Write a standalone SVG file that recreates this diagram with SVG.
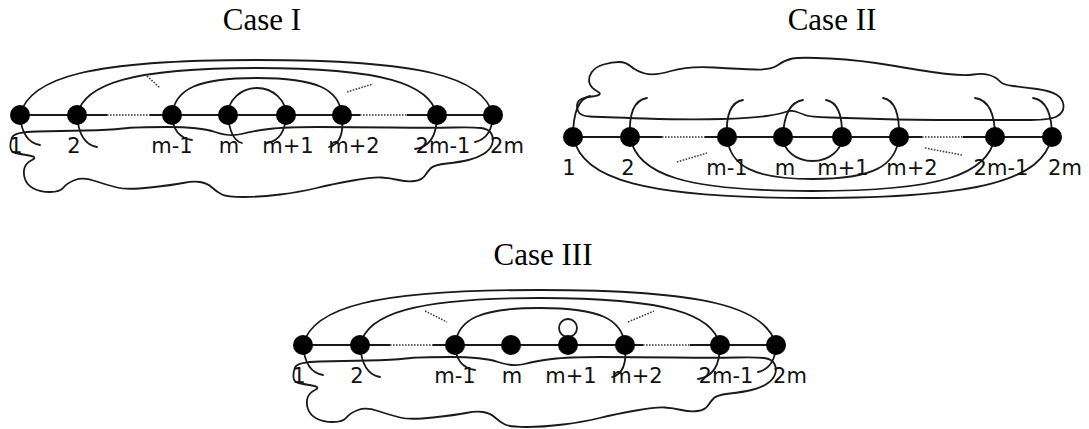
<svg xmlns="http://www.w3.org/2000/svg" width="1089" height="429" viewBox="0 0 1089 429">
<style>
.title{font-family:"Liberation Serif","Times New Roman",serif;font-size:31px;fill:#000;text-anchor:middle}
.lbl{font-family:"DejaVu Sans",sans-serif;font-size:21px;fill:#111;text-anchor:middle}
.ln{fill:none;stroke:#1a1a1a;stroke-width:2}
.cv{fill:none;stroke:#1a1a1a;stroke-width:1.8;stroke-linecap:round}
.dot{fill:none;stroke:#666;stroke-width:2;stroke-dasharray:1.6 1.4}
.dg{fill:none;stroke:#444;stroke-width:1.6;stroke-dasharray:1.6 1.4}
.nd{fill:#000}
</style>
<defs>
<path id="blobI" d="M12,137.5 Q14,132 37,131.5 Q60,131 85,130.5 Q110,130 122.5,128.5 Q135,127 167.5,127 Q200,127 215,132 Q230,137 241.5,134 Q253,131 269,129 Q285,127 317.5,127 Q350,127 391.5,127.5 Q433,128 453,127.5 Q473,127 481,128 Q489,129 491.5,134 Q494,139 492,144.5 Q490,150 483.5,154 Q477,158 468.5,160 Q460,162 447,163.5 Q434,165 431,168 Q428,171 425,175.5 Q422,180 414.5,181 Q407,182 398.5,180 Q390,178 381.5,177.5 Q373,177 353,180.5 Q333,184 316.5,188 Q300,192 280,194.5 Q260,197 243.5,197 Q227,197 222,194.5 Q217,192 212,187.5 Q207,183 200,182 Q193,181 183,183 Q173,185 150,187.5 Q127,190 117,187.5 Q107,185 95,181 Q83,177 75,180 Q67,183 63.5,187.5 Q60,192 50,192 Q40,192 33.5,188.5 Q27,185 25,179 Q23,173 24.5,168 Q26,163 32,160 Q38,157 29,155.5 Q20,154 15.5,153 Q11,152 10.5,147.5 Q10,143 12,137.5 Z"/>
</defs>

<text class="title" x="262" y="30">Case I</text>
<text class="title" x="832" y="30">Case II</text>
<text class="title" x="543" y="265">Case III</text>

<!-- Case I -->
<g id="case1">
  <g id="c1-connectors">
    <use href="#blobI" class="cv"/>
    <path class="cv" d="M20,115 C29.5,77 91,60 256.5,60 C422,60 483.5,77 493,115"/>
    <path class="cv" d="M77,115 C84,84 131,68 257,68 C383,68 430,84 437,115"/>
    <path class="cv" d="M172,115 C175,89 197,78 257,78 C317,78 339,89 342,115"/>
    <path class="cv" d="M228,115 A29,27 0 0 1 286,115"/>
    <path class="cv" d="M20,115 Q22,142 40,145"/>
    <path class="cv" d="M77,115 Q79,144 97,147"/>
    <path class="cv" d="M172,115 Q173,137 192,140"/>
    <path class="cv" d="M228,115 Q230,140 242,143"/>
    <path class="cv" d="M286,115 Q285,140 267,143"/>
    <path class="cv" d="M342,115 Q345,143 329,147"/>
    <path class="cv" d="M437,115 Q437,146 415,149"/>
    <path class="cv" d="M493,115 Q492,138 475,142"/>
    <path class="ln" d="M20,115 H107 M150,115 H360 M407,115 H493"/>
    <path class="dot" d="M107,115 H150 M360,115 H407"/>
    <path class="dg" d="M147,76 L160,88"/>
    <path class="dg" d="M347,92 L373,84"/>
  </g>
  <g id="c1-n1"><circle class="nd" cx="20" cy="115" r="10"/><text class="lbl" x="16" y="153">1</text></g>
  <g id="c1-n2"><circle class="nd" cx="77" cy="115" r="10"/><text class="lbl" x="74" y="153">2</text></g>
  <g id="c1-nm-1"><circle class="nd" cx="172" cy="115" r="10"/><text class="lbl" x="172" y="153">m-1</text></g>
  <g id="c1-nm"><circle class="nd" cx="228" cy="115" r="10"/><text class="lbl" x="229" y="153">m</text></g>
  <g id="c1-nm+1"><circle class="nd" cx="286" cy="115" r="10"/><text class="lbl" x="288" y="153">m+1</text></g>
  <g id="c1-nm+2"><circle class="nd" cx="342" cy="115" r="10"/><text class="lbl" x="354" y="153">m+2</text></g>
  <g id="c1-n2m-1"><circle class="nd" cx="437" cy="115" r="10"/><text class="lbl" x="443" y="153">2m-1</text></g>
  <g id="c1-n2m"><circle class="nd" cx="493" cy="115" r="10"/><text class="lbl" x="507" y="153">2m</text></g>
</g>

<!-- Case II -->
<g id="case2">
  <g id="c2-connectors">
    <path class="cv" d="M589.5,83 Q588,78 591.5,72.5 Q595,67 603.5,64.5 Q612,62 619,62 Q626,62 631,66.5 Q636,71 645,73.5 Q654,76 671,71 Q688,66 714,67.5 Q740,69 755.5,69.5 Q771,70 778,65 Q785,60 792.5,58.5 Q800,57 830,58.5 Q860,60 895,66 Q930,72 947.5,74 Q965,76 973.5,74.5 Q982,73 989,75 Q996,77 999.5,81 Q1003,85 1013,86 Q1023,87 1037,89 Q1051,91 1057,95 Q1063,99 1063.5,105.5 Q1064,112 1057.5,116 Q1051,120 1030.5,120 Q1010,120 960,120 Q910,120 880,119 Q850,118 830,117.5 Q810,117 805,115 Q800,113 795.5,111.5 Q791,110 785.5,112 Q780,114 766.5,116 Q753,118 721.5,119 Q690,120 645,118.5 Q600,117 590,116.5 Q580,116 578,111 Q576,106 578,102 Q580,98 592,96.5 Q604,95 597.5,91.5 Q591,88 589.5,83 Z"/>
    <path class="cv" d="M573,137 C583,180 645,198 812.5,198 C980,198 1042,180 1052,137"/>
    <path class="cv" d="M630,137 C637,175 685,191 812.5,191 C940,191 988,175 995,137"/>
    <path class="cv" d="M727,137 C730,166 753,179 813,179 C873,179 896,166 899,137"/>
    <path class="cv" d="M783,137 A29.5,24 0 0 0 842,137"/>
    <path class="cv" d="M573,137 Q573,100 590,96"/>
    <path class="cv" d="M630,137 Q628,101 647,98"/>
    <path class="cv" d="M727,137 Q725,103 743,100"/>
    <path class="cv" d="M783,137 Q784,103 803,100"/>
    <path class="cv" d="M842,137 Q843,103 826,100"/>
    <path class="cv" d="M899,137 Q900,101 883,98"/>
    <path class="cv" d="M995,137 Q995,101 975,98"/>
    <path class="cv" d="M1052,137 Q1052,101 1033,98"/>
    <path class="ln" d="M573,137 H662 M705,137 H922 M963,137 H1052"/>
    <path class="dot" d="M662,137 H705 M922,137 H963"/>
    <path class="dg" d="M677,162 L707,153"/>
    <path class="dg" d="M925,148 L962,155"/>
  </g>
  <g id="c2-n1"><circle class="nd" cx="573" cy="137" r="10"/><text class="lbl" x="569" y="175">1</text></g>
  <g id="c2-n2"><circle class="nd" cx="630" cy="137" r="10"/><text class="lbl" x="628" y="175">2</text></g>
  <g id="c2-nm-1"><circle class="nd" cx="727" cy="137" r="10"/><text class="lbl" x="727" y="175">m-1</text></g>
  <g id="c2-nm"><circle class="nd" cx="783" cy="137" r="10"/><text class="lbl" x="785" y="175">m</text></g>
  <g id="c2-nm+1"><circle class="nd" cx="842" cy="137" r="10"/><text class="lbl" x="843" y="175">m+1</text></g>
  <g id="c2-nm+2"><circle class="nd" cx="899" cy="137" r="10"/><text class="lbl" x="912" y="175">m+2</text></g>
  <g id="c2-n2m-1"><circle class="nd" cx="995" cy="137" r="10"/><text class="lbl" x="1001" y="175">2m-1</text></g>
  <g id="c2-n2m"><circle class="nd" cx="1052" cy="137" r="10"/><text class="lbl" x="1065" y="175">2m</text></g>
</g>

<!-- Case III -->
<g id="case3" transform="translate(283,230)">
  <g id="c3-connectors">
    <use href="#blobI" class="cv"/>
    <path class="cv" d="M20,115 C29.5,77 91,60 256.5,60 C422,60 483.5,77 493,115"/>
    <path class="cv" d="M77,115 C84,84 131,68 257,68 C383,68 430,84 437,115"/>
    <path class="cv" d="M172,115 C175,89 197,78 257,78 C317,78 339,89 342,115"/>
    <circle class="cv" cx="285" cy="98" r="9"/>
    <path class="cv" d="M20,115 Q22,142 40,145"/>
    <path class="cv" d="M77,115 Q79,144 97,147"/>
    <path class="cv" d="M172,115 Q173,137 192,140"/>
    <path class="cv" d="M342,115 Q345,143 329,147"/>
    <path class="cv" d="M437,115 Q437,146 415,149"/>
    <path class="cv" d="M493,115 Q492,138 475,142"/>
    <path class="ln" d="M20,115 H107 M150,115 H360 M407,115 H493"/>
    <path class="dot" d="M107,115 H150 M360,115 H407"/>
    <path class="dg" d="M142,81 L164,92"/>
    <path class="dg" d="M345,92 L371,81"/>
  </g>
  <g id="c3-n1"><circle class="nd" cx="20" cy="115" r="10"/><text class="lbl" x="16" y="153">1</text></g>
  <g id="c3-n2"><circle class="nd" cx="77" cy="115" r="10"/><text class="lbl" x="74" y="153">2</text></g>
  <g id="c3-nm-1"><circle class="nd" cx="172" cy="115" r="10"/><text class="lbl" x="172" y="153">m-1</text></g>
  <g id="c3-nm"><circle class="nd" cx="228" cy="115" r="10"/><text class="lbl" x="229" y="153">m</text></g>
  <g id="c3-nm+1"><circle class="nd" cx="285" cy="115" r="10"/><text class="lbl" x="288" y="153">m+1</text></g>
  <g id="c3-nm+2"><circle class="nd" cx="342" cy="115" r="10"/><text class="lbl" x="354" y="153">m+2</text></g>
  <g id="c3-n2m-1"><circle class="nd" cx="437" cy="115" r="10"/><text class="lbl" x="443" y="153">2m-1</text></g>
  <g id="c3-n2m"><circle class="nd" cx="493" cy="115" r="10"/><text class="lbl" x="507" y="153">2m</text></g>
</g>
</svg>
